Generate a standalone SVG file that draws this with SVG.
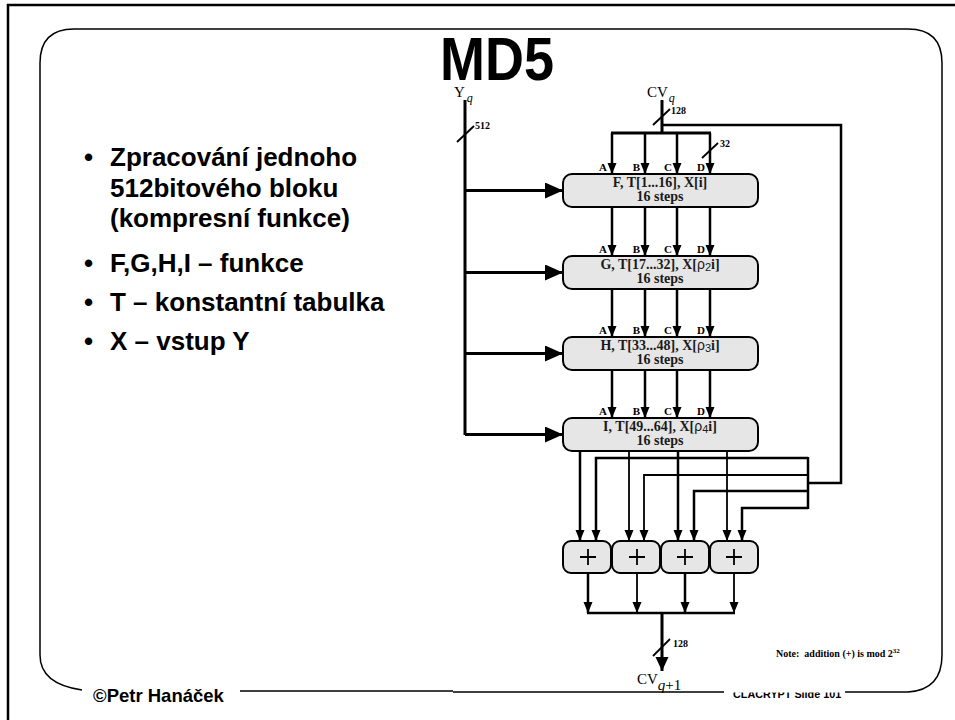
<svg xmlns="http://www.w3.org/2000/svg" width="955" height="720" viewBox="0 0 955 720">
<style>
.frame{fill:none;stroke:#000}
.box{fill:#e6e6e6;stroke:#000;stroke-width:2}
.bl{font-family:"Liberation Serif","Times New Roman",serif;font-weight:bold;font-size:14px;text-anchor:middle;fill:#1a1a1a}
.lab{font-family:"Liberation Serif","Times New Roman",serif;font-weight:bold;font-size:10px;fill:#000}
.abcd{font-family:"Liberation Serif","Times New Roman",serif;font-weight:bold;font-size:11px;text-anchor:end;fill:#000}
.var{font-family:"Liberation Serif","Times New Roman",serif;font-size:15px;fill:#000}
.bul{font-family:"Liberation Sans",Arial,sans-serif;font-weight:bold;font-size:26px;fill:#000}
.rho{font-family:"Liberation Sans",Arial,sans-serif;font-weight:normal}
.w{fill:none;stroke:#000;stroke-width:2.5}
.t{fill:none;stroke:#000;stroke-width:3}
.n{fill:none;stroke:#000;stroke-width:1.8}
</style>
<defs>
<marker id="ah" markerUnits="userSpaceOnUse" markerWidth="12" markerHeight="10" refX="11" refY="4.5" orient="auto"><path d="M0,0 L11,4.5 L0,9 z" fill="#000"/></marker>
<marker id="big" markerUnits="userSpaceOnUse" markerWidth="20" markerHeight="18" refX="18" refY="8" orient="auto"><path d="M0,0 L18,8 L0,16 z" fill="#000"/></marker>
<marker id="mid" markerUnits="userSpaceOnUse" markerWidth="16" markerHeight="14" refX="14" refY="6.5" orient="auto"><path d="M0,0 L14,6.5 L0,13 z" fill="#000"/></marker>
<clipPath id="footclip"><rect x="700" y="692.5" width="200" height="20"/></clipPath>
</defs>

<g id="frame">
<path class="frame" stroke-width="2.5" d="M8,720 L8,5 L955,5"/>
<path class="frame" stroke-width="1.5" d="M82,690 Q40,684 40,655 L40,63 Q40,29 74,29 L908,29 Q942,29 942,63 L942,655 Q942,690 908,692 L845,692 M724,692 L453,692 M453,691 L240,691"/>
</g>

<g id="title">
<text x="497" y="80" text-anchor="middle" font-family="'Liberation Sans',Arial,sans-serif" font-weight="bold" font-size="61" textLength="114" lengthAdjust="spacingAndGlyphs">MD5</text>
</g>

<g id="bullets" class="bul">
<text x="84" y="166">•</text><text x="110" y="166">Zpracování jednoho</text>
<text x="110" y="197">512bitového bloku</text>
<text x="110" y="227">(kompresní funkce)</text>
<text x="84" y="272">•</text><text x="110" y="272">F,G,H,I – funkce</text>
<text x="84" y="311">•</text><text x="110" y="311">T – konstantní tabulka</text>
<text x="84" y="350">•</text><text x="110" y="350">X – vstup Y</text>
</g>

<g id="footer">
<text x="93" y="702" font-family="'Liberation Sans',Arial,sans-serif" font-weight="bold" font-size="18.5">©Petr Hanáček</text>
<text x="733" y="698" clip-path="url(#footclip)" font-family="'Liberation Sans',Arial,sans-serif" font-weight="bold" font-size="10.8">CLACRYPT Slide 101</text>
</g>

<g id="inputs">
<text class="var" x="454" y="97">Y<tspan font-style="italic" font-size="12" dx="2" dy="5">q</tspan></text>
<text class="var" x="647" y="97">CV<tspan font-style="italic" font-size="12" dx="1" dy="5">q</tspan></text>
<text class="lab" x="475" y="129" font-size="9">512</text>
<text class="lab" x="671" y="114" font-size="9">128</text>
<text class="lab" x="720" y="147" font-size="9">32</text>
</g>

<g id="connectors">
<path class="t" d="M465,100 L465,435"/>
<path class="t" d="M465,190.5 L563,190.5" marker-end="url(#big)"/>
<path class="t" d="M465,272.5 L563,272.5" marker-end="url(#big)"/>
<path class="t" d="M465,353.5 L563,353.5" marker-end="url(#big)"/>
<path class="t" d="M465,434.5 L563,434.5" marker-end="url(#big)"/>
<path class="n" d="M457,142 L474,126"/>
<path class="t" d="M662,100 L662,133"/>
<path class="n" d="M653,125 L670,109"/>
<path class="w" d="M662,125 L841,125 L841,483 L808,483"/>
<path class="t" d="M611,133 L711,133"/>
<path class="w" d="M612,133 L612,174" marker-end="url(#ah)"/>
<path class="w" d="M645,133 L645,174" marker-end="url(#ah)"/>
<path class="w" d="M677,133 L677,174" marker-end="url(#ah)"/>
<path class="w" d="M710,133 L710,174" marker-end="url(#ah)"/>
<path class="n" d="M702,158 L718,143"/>
<path class="w" d="M612,207 L612,256" marker-end="url(#ah)"/>
<path class="w" d="M645,207 L645,256" marker-end="url(#ah)"/>
<path class="w" d="M677,207 L677,256" marker-end="url(#ah)"/>
<path class="w" d="M710,207 L710,256" marker-end="url(#ah)"/>
<path class="w" d="M612,289 L612,337" marker-end="url(#ah)"/>
<path class="w" d="M645,289 L645,337" marker-end="url(#ah)"/>
<path class="w" d="M677,289 L677,337" marker-end="url(#ah)"/>
<path class="w" d="M710,289 L710,337" marker-end="url(#ah)"/>
<path class="w" d="M612,370 L612,418" marker-end="url(#ah)"/>
<path class="w" d="M645,370 L645,418" marker-end="url(#ah)"/>
<path class="w" d="M677,370 L677,418" marker-end="url(#ah)"/>
<path class="w" d="M710,370 L710,418" marker-end="url(#ah)"/>
<path class="w" d="M580,451 L580,541" marker-end="url(#ah)"/>
<path class="n" d="M629,451 L629,541" marker-end="url(#ah)"/>
<path class="w" d="M678,451 L678,541" marker-end="url(#ah)"/>
<path class="n" d="M727,451 L727,541" marker-end="url(#ah)"/>
<path class="w" d="M808,457 L808,509"/>
<path class="w" d="M808,458 L596,458 L596,541" marker-end="url(#ah)"/>
<path class="n" d="M808,475 L644,475 L644,541" marker-end="url(#ah)"/>
<path class="w" d="M808,491 L694,491 L694,541" marker-end="url(#ah)"/>
<path class="w" d="M808,508 L742,508 L742,541" marker-end="url(#ah)"/>
<path class="w" d="M588,573 L588,613" marker-end="url(#ah)"/>
<path class="n" d="M637,573 L637,613" marker-end="url(#ah)"/>
<path class="w" d="M685,573 L685,613" marker-end="url(#ah)"/>
<path class="n" d="M734,573 L734,613" marker-end="url(#ah)"/>
<path class="w" d="M587,613 L735,613"/>
<path class="t" d="M662,613 L662,671" marker-end="url(#mid)"/>
<path class="n" d="M653,656 L670,639"/>
</g>

<g id="box-F">
<rect class="box" x="563" y="174" width="195" height="33" rx="9"/>
<text class="bl" x="660" y="187">F, T[1...16], X[i]</text>
<text class="bl" x="660" y="201">16 steps</text>
<text class="abcd" x="607" y="171">A</text><text class="abcd" x="640" y="171">B</text><text class="abcd" x="672" y="171">C</text><text class="abcd" x="705" y="171">D</text>
</g>
<g id="box-G">
<rect class="box" x="563" y="256" width="195" height="33" rx="9"/>
<text class="bl" x="660" y="269">G, T[17...32], X[<tspan class="rho">ρ</tspan><tspan class="rho" font-size="11" dy="2">2</tspan><tspan dy="-2">i]</tspan></text>
<text class="bl" x="660" y="283">16 steps</text>
<text class="abcd" x="607" y="253">A</text><text class="abcd" x="640" y="253">B</text><text class="abcd" x="672" y="253">C</text><text class="abcd" x="705" y="253">D</text>
</g>
<g id="box-H">
<rect class="box" x="563" y="337" width="195" height="33" rx="9"/>
<text class="bl" x="660" y="350">H, T[33...48], X[<tspan class="rho">ρ</tspan><tspan class="rho" font-size="11" dy="2">3</tspan><tspan dy="-2">i]</tspan></text>
<text class="bl" x="660" y="364">16 steps</text>
<text class="abcd" x="607" y="334">A</text><text class="abcd" x="640" y="334">B</text><text class="abcd" x="672" y="334">C</text><text class="abcd" x="705" y="334">D</text>
</g>
<g id="box-I">
<rect class="box" x="563" y="418" width="195" height="33" rx="9"/>
<text class="bl" x="660" y="431">I, T[49...64], X[<tspan class="rho">ρ</tspan><tspan class="rho" font-size="11" dy="2">4</tspan><tspan dy="-2">i]</tspan></text>
<text class="bl" x="660" y="445">16 steps</text>
<text class="abcd" x="607" y="415">A</text><text class="abcd" x="640" y="415">B</text><text class="abcd" x="672" y="415">C</text><text class="abcd" x="705" y="415">D</text>
</g>

<g id="add-1"><rect class="box" x="563" y="541" width="48" height="32" rx="8"/><path class="n" d="M580,557 L596,557 M588,549 L588,565"/></g>
<g id="add-2"><rect class="box" x="612" y="541" width="48" height="32" rx="8"/><path class="n" d="M629,557 L645,557 M637,549 L637,565"/></g>
<g id="add-3"><rect class="box" x="661" y="541" width="48" height="32" rx="8"/><path class="n" d="M677,557 L693,557 M685,549 L685,565"/></g>
<g id="add-4"><rect class="box" x="710" y="541" width="48" height="32" rx="8"/><path class="n" d="M726,557 L742,557 M734,549 L734,565"/></g>

<g id="output">
<text class="lab" x="673" y="647" font-size="9">128</text>
<text class="var" x="637" y="684" font-size="18">CV<tspan font-style="italic" font-size="15" dy="6">q</tspan><tspan font-size="15">+1</tspan></text>
<text class="lab" x="776" y="657" font-size="9.8" xml:space="preserve">Note:  addition (+) is mod 2<tspan font-size="7" dy="-4">32</tspan></text>
</g>
</svg>
